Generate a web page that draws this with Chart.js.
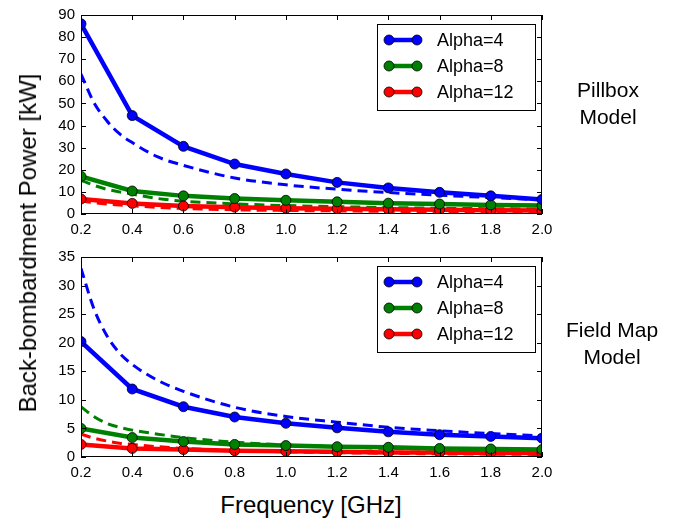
<!DOCTYPE html>
<html>
<head>
<meta charset="utf-8">
<script src="https://cdn.jsdelivr.net/npm/chart.js@4.4.0/dist/chart.umd.min.js"></script>
<style>
body{margin:0;background:#fff;width:689px;height:522px;position:relative;overflow:hidden;font-family:'Liberation Sans',Arial,sans-serif;color:#000;}
canvas{position:absolute;left:0;}
#c1{top:0;}
#c2{top:240px;}
.note{position:absolute;text-align:center;font-size:21px;line-height:27px;transform:translateX(-50%);white-space:nowrap;}
#ytitle{position:absolute;left:28px;top:243px;transform:translate(-50%,-50%) rotate(-90deg);font-size:24px;white-space:nowrap;}
#xtitle{position:absolute;left:311px;top:505px;transform:translate(-50%,-50%);font-size:24px;white-space:nowrap;}
</style>
</head>
<body>
<canvas id="c1" width="689" height="240"></canvas>
<canvas id="c2" width="689" height="243"></canvas>
<div class="note" style="left:608px;top:76px;">Pillbox<br>Model</div>
<div class="note" style="left:612px;top:316px;">Field Map<br>Model</div>
<div id="ytitle">Back-bombardment Power [kW]</div>
<div id="xtitle">Frequency [GHz]</div>
<script>
// frecuencias [GHz] de los puntos simulados
const freq = [0.2, 0.4, 0.6, 0.8, 1.0, 1.2, 1.4, 1.6, 1.8, 2.0];
// frecuencias leidas sobre las curvas punteadas
const freqDash = [0.2, 0.25, 0.3, 0.35, 0.4, 0.5, 0.6, 0.8, 1.0, 1.2, 1.4, 1.6, 1.8, 2.0];

// Pillbox
const pillA4 = [86, 44.5, 30.6, 22.6, 18.1, 14.3, 11.8, 9.8, 8.2, 6.6];
const pillA8 = [17, 10.4, 8.2, 7.0, 6.2, 5.5, 4.9, 4.5, 4.1, 3.8];
const pillA12 = [6.8, 4.8, 3.6, 3.1, 2.6, 2.4, 2.1, 1.9, 1.7, 1.6];
const pillA4Dash = [63.3, 50.5, 42.3, 36.3, 32.3, 25.8, 22, 16.3, 13.2, 11.2, 9.7, 8.5, 7.4, 6.4];
const pillA8Dash = [15.3, 13, 11.2, 10, 9, 7, 5.8, 4.6, 3.8, 3.3, 2.9, 2.6, 2.4, 2.2];
const pillA12Dash = [6.0, 5.1, 4.5, 4.1, 3.7, 3.0, 2.5, 1.9, 1.6, 1.4, 1.2, 1.1, 1.0, 0.9];

// Field Map
const fmA4 = [20.2, 11.9, 8.8, 7.0, 5.9, 5.1, 4.4, 3.9, 3.6, 3.3];
const fmA8 = [5.0, 3.4, 2.7, 2.2, 2.0, 1.8, 1.7, 1.5, 1.4, 1.3];
const fmA12 = [2.2, 1.5, 1.3, 1.1, 1.0, 0.9, 0.8, 0.8, 0.7, 0.7];
const fmA4Dash = [33, 26, 21.3, 18.2, 16.2, 13.4, 11.5, 8.7, 7.1, 6.1, 5.2, 4.6, 4.1, 3.7];
const fmA8Dash = [8.8, 7.1, 5.9, 5.2, 4.7, 4.0, 3.4, 2.6, 2.1, 1.8, 1.5, 1.35, 1.2, 1.1];
const fmA12Dash = [4.0, 3.3, 2.8, 2.4, 2.2, 1.8, 1.5, 1.1, 0.9, 0.75, 0.65, 0.55, 0.5, 0.45];

const labels = ['Alpha=4', 'Alpha=8', 'Alpha=12'];
const colores = ['#0000ff', '#008000', '#ff0000'];

const FONT = "'Liberation Sans', Arial, sans-serif";

const pts = (xs, vals) => xs.map((f, i) => ({x: f, y: vals[i]}));

const solido = (label, color, vals) => ({
    label: label,
    data: pts(freq, vals),
    borderColor: color,
    backgroundColor: color,
    borderWidth: 4.5,
    pointRadius: 5,
    pointBorderColor: '#000',
    pointBorderWidth: 0.8,
    pointBackgroundColor: color,
    tension: 0,
    clip: 0
});

const punteado = (color, vals) => ({
    label: '',
    dashed: true,
    data: pts(freqDash, vals),
    borderColor: color,
    borderWidth: 3,
    borderDash: [10, 6],
    pointRadius: 0,
    cubicInterpolationMode: 'monotone',
    clip: 0
});

// marco, ticks hacia adentro y leyenda dentro del area
const marco = {
    id: 'marco',
    afterDatasetsDraw(chart) {
        const {ctx, chartArea: a, scales: {x, y}} = chart;
        ctx.save();
        ctx.strokeStyle = '#000';
        ctx.lineWidth = 1;
        ctx.strokeRect(a.left + 0.5, a.top + 0.5, a.right - a.left - 1, a.bottom - a.top - 1);
        ctx.beginPath();
        x.ticks.forEach(t => {
            const px = Math.round(x.getPixelForValue(t.value)) + 0.5;
            ctx.moveTo(px, a.bottom); ctx.lineTo(px, a.bottom - 5);
            ctx.moveTo(px, a.top); ctx.lineTo(px, a.top + 5);
        });
        y.ticks.forEach(t => {
            const py = Math.round(y.getPixelForValue(t.value)) + 0.5;
            ctx.moveTo(a.left, py); ctx.lineTo(a.left + 5, py);
            ctx.moveTo(a.right, py); ctx.lineTo(a.right - 5, py);
        });
        ctx.stroke();

        // leyenda
        const items = chart.data.datasets.filter(d => !d.dashed);
        const w = 158, h = 86;
        const bx = a.right - 7 - w, by = a.top + 9;
        ctx.fillStyle = '#fff';
        ctx.fillRect(bx, by, w, h);
        ctx.lineWidth = 1;
        ctx.strokeStyle = '#000';
        ctx.strokeRect(bx + 0.5, by + 0.5, w, h);
        ctx.font = '18px ' + FONT;
        ctx.textBaseline = 'middle';
        items.forEach((d, i) => {
            const cy = by + 16 + i * 26;
            ctx.strokeStyle = d.borderColor;
            ctx.lineWidth = 4.5;
            ctx.beginPath();
            ctx.moveTo(bx + 12, cy); ctx.lineTo(bx + 40, cy);
            ctx.stroke();
            [bx + 12, bx + 40].forEach(mx => {
                ctx.beginPath();
                ctx.arc(mx, cy, 5, 0, Math.PI * 2);
                ctx.fillStyle = d.borderColor;
                ctx.fill();
                ctx.lineWidth = 0.8;
                ctx.strokeStyle = '#000';
                ctx.stroke();
            });
            ctx.fillStyle = '#000';
            ctx.fillText(d.label, bx + 60, cy + 1);
        });
        ctx.restore();
    }
};

const crearGrafico = (id, series, ymax, ystep, padTop) => {
    const ds = [];
    series.forEach((s, i) => ds.push(solido(labels[i], colores[i], s[0])));
    series.forEach((s, i) => ds.push(punteado(colores[i], s[1])));
    new Chart(document.getElementById(id), {
        type: 'line',
        data: {datasets: ds},
        options: {
            responsive: false,
            animation: false,
            layout: {padding: {top: padTop, right: 147, left: 0, bottom: 0}},
            plugins: {legend: {display: false}, tooltip: {enabled: false}},
            scales: {
                x: {
                    type: 'linear', min: 0.2, max: 2.0,
                    grid: {display: false, drawTicks: false},
                    border: {display: false},
                    afterFit: s => { s.height = 26; },
                    ticks: {
                        stepSize: 0.2, padding: 7, color: '#000',
                        font: {family: FONT, size: 15},
                        maxRotation: 0,
                        callback: v => Number(v).toFixed(1)
                    }
                },
                y: {
                    min: 0, max: ymax,
                    grid: {display: false, drawTicks: false},
                    border: {display: false},
                    afterFit: s => { s.width = 81; },
                    ticks: {
                        stepSize: ystep, padding: 6, color: '#000',
                        font: {family: FONT, size: 15}
                    }
                }
            }
        },
        plugins: [marco]
    });
};

crearGrafico('c1', [[pillA4, pillA4Dash], [pillA8, pillA8Dash], [pillA12, pillA12Dash]], 90, 10, 13);
crearGrafico('c2', [[fmA4, fmA4Dash], [fmA8, fmA8Dash], [fmA12, fmA12Dash]], 35, 5, 17);
</script>
</body>
</html>
